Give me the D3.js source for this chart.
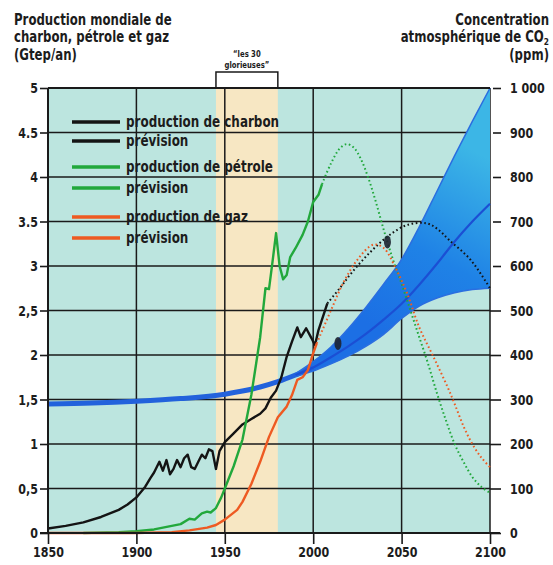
<!DOCTYPE html>
<html>
<head>
<meta charset="utf-8">
<script src="https://cdn.jsdelivr.net/npm/d3@7"></script>
<style>
  body { margin: 0; background: #fff; }
  text { font-family: 'Liberation Sans Narrow', 'DejaVu Sans Condensed', 'Arial Narrow', sans-serif; font-weight: bold; fill: #1c1c1c; }
</style>
</head>
<body>
<div id="app"></div>
<script>
// production (Gtep/an) : [année, valeur]
const charbon = [[1850,0.05],[1860,0.08],[1870,0.12],[1880,0.18],[1890,0.26],[1895,0.32],[1900,0.4],[1905,0.52],[1908,0.62],[1910,0.68],[1913,0.8],[1915,0.7],[1917,0.82],[1919,0.66],[1921,0.72],[1923,0.82],[1925,0.74],[1927,0.84],[1929,0.88],[1931,0.74],[1933,0.72],[1935,0.8],[1937,0.88],[1939,0.84],[1941,0.94],[1943,0.92],[1945,0.72],[1947,0.92],[1950,1.02],[1955,1.12],[1960,1.22],[1965,1.28],[1970,1.34],[1973,1.4],[1976,1.52],[1979,1.6],[1982,1.75],[1985,1.98],[1988,2.15],[1991,2.31],[1993,2.2],[1996,2.3],[1999,2.19],[2001,2.11],[2003,2.28],[2008,2.58]];
const charbonPrevision = [[2008,2.58],[2015,2.75],[2022,2.93],[2032,3.15],[2042,3.33],[2053,3.46],[2064,3.48],[2070,3.42],[2077,3.29],[2089,3.07],[2100,2.75]];
const petrole = [[1870,0],[1890,0.01],[1900,0.02],[1910,0.04],[1915,0.06],[1920,0.08],[1925,0.1],[1930,0.16],[1933,0.15],[1937,0.22],[1940,0.24],[1942,0.23],[1945,0.28],[1948,0.4],[1950,0.5],[1955,0.75],[1960,1.05],[1965,1.55],[1970,2.2],[1973,2.75],[1975,2.74],[1977,3.05],[1979,3.37],[1981,3.0],[1983,2.85],[1985,2.9],[1987,3.1],[1990,3.2],[1994,3.35],[1997,3.5],[2000,3.72],[2003,3.8],[2005,3.92]];
const petrolePrevision = [[2005,3.92],[2010,4.15],[2015,4.32],[2019,4.37],[2023,4.33],[2027,4.2],[2031,4.0],[2035,3.75],[2040,3.4],[2045,3.08],[2050,2.8],[2055,2.5],[2060,2.2],[2065,1.9],[2070,1.57],[2075,1.27],[2080,1.0],[2085,0.8],[2090,0.63],[2095,0.52],[2100,0.45]];
const gaz = [[1850,0],[1900,0],[1920,0.01],[1930,0.03],[1940,0.06],[1945,0.09],[1950,0.15],[1957,0.26],[1960,0.35],[1965,0.55],[1970,0.8],[1975,1.08],[1980,1.3],[1985,1.42],[1988,1.55],[1991,1.72],[1994,1.75],[1997,1.83],[2000,2.02],[2002,2.13]];
const gazPrevision = [[2002,2.13],[2010,2.5],[2017,2.81],[2025,3.07],[2034,3.24],[2040,3.2],[2047,2.96],[2053,2.7],[2060,2.31],[2068,1.98],[2076,1.64],[2080,1.45],[2085,1.2],[2090,1.0],[2095,0.85],[2100,0.74]];

// CO2 (ppm)
const co2Historique = [[1850,290],[1875,292],[1900,296],[1925,302],[1950,312],[1960,319],[1970,328],[1980,340],[1990,355]];
const co2Annees = [1990,2000,2010,2020,2030,2040,2050,2060,2070,2080,2090,2100];
const co2Central = [355,372,395,420,448,480,515,558,605,655,700,740];
const co2Haut = [358,385,418,460,508,560,615,688,768,848,925,1000];
const co2Bas = [352,364,380,398,420,447,482,510,528,540,547,550];

// repères
const glorieuses = [1945, 1980];
const marqueurs = [[2014, 2.13], [2042, 3.27]];

// axes
const anneesTicks = [1850, 1900, 1950, 2000, 2050, 2100];
const gaucheTicks = [0, 0.5, 1, 1.5, 2, 2.5, 3, 3.5, 4, 4.5, 5];
const gaucheLabels = ["0", "0,5", "1", "1,5", "2", "2,5", "3", "3.5", "4", "4.5", "5"];
const droiteTicks = [0, 100, 200, 300, 400, 500, 600, 700, 800, 900, 1000];
const droiteLabels = ["0", "100", "200", "300", "400", "500", "600", "700", "800", "900", "1 000"];

const legende = [
  { label: "production de charbon", color: "#141414" },
  { label: "prévision", color: "#141414" },
  { label: "production de pétrole", color: "#22a83c" },
  { label: "prévision", color: "#22a83c" },
  { label: "production de gaz", color: "#ee5a22" },
  { label: "prévision", color: "#ee5a22" }
];

const W = 553, H = 565;
const x = d3.scaleLinear([1850, 2100], [48, 490]);
const y = d3.scaleLinear([0, 5], [533, 88]);
const yCO2 = d3.scaleLinear([0, 1000], [533, 88]);

const svg = d3.select("#app").append("svg")
    .attr("width", W)
    .attr("height", H);

// resserre le texte (police plus étroite dans l'original)
function squeeze(sel, k) {
    sel.each(function () {
        const w = this.getComputedTextLength();
        d3.select(this).attr("textLength", w * k).attr("lengthAdjust", "spacingAndGlyphs");
    });
}

// fond
svg.append("rect")
    .attr("x", x(1850)).attr("y", y(5))
    .attr("width", x(2100) - x(1850)).attr("height", y(0) - y(5))
    .attr("fill", "#bce5df");

svg.append("rect")
    .attr("x", x(glorieuses[0])).attr("y", y(5))
    .attr("width", x(glorieuses[1]) - x(glorieuses[0])).attr("height", y(0) - y(5))
    .attr("fill", "#f7e7c3");

// grille
const grid = svg.append("g").attr("stroke", "#1a1a1a").attr("stroke-width", 1.5);
grid.selectAll(".gx").data(anneesTicks.slice(1, -1)).join("line")
    .attr("x1", d => x(d)).attr("x2", d => x(d))
    .attr("y1", y(0)).attr("y2", y(5));
grid.selectAll(".gy").data(gaucheTicks.slice(1, -1)).join("line")
    .attr("x1", x(1850)).attr("x2", x(2100))
    .attr("y1", d => y(d)).attr("y2", d => y(d));
grid.append("line")
    .attr("x1", x(2100)).attr("x2", x(2100))
    .attr("y1", y(0)).attr("y2", y(5));

// éventail CO2
const defs = svg.append("defs");
const grad = defs.append("linearGradient")
    .attr("id", "fan")
    .attr("gradientUnits", "userSpaceOnUse")
    .attr("x1", x(2040)).attr("y1", yCO2(450))
    .attr("x2", x(2095)).attr("y2", yCO2(850));
grad.append("stop").attr("offset", 0).attr("stop-color", "#1c6fe4");
grad.append("stop").attr("offset", 0.45).attr("stop-color", "#1f82e6");
grad.append("stop").attr("offset", 1).attr("stop-color", "#3cb6e6");

const co2Band = co2Annees.map((a, i) => ({ a, haut: co2Haut[i], bas: co2Bas[i], c: co2Central[i] }));

svg.append("path")
    .datum(co2Band)
    .attr("d", d3.area()
        .x(d => x(d.a))
        .y0(d => yCO2(d.bas))
        .y1(d => yCO2(d.haut))
        .curve(d3.curveMonotoneX))
    .attr("fill", "url(#fan)");

const lineCO2 = d3.line()
    .x(d => x(d[0]))
    .y(d => yCO2(d[1]))
    .curve(d3.curveMonotoneX);

svg.append("path")
    .datum(co2Historique.concat(co2Band.slice(1, 2).map(d => [d.a, d.c])))
    .attr("d", lineCO2)
    .attr("fill", "none")
    .attr("stroke", "#2262dc")
    .attr("stroke-width", 5);

["haut", "bas"].forEach(k => {
    svg.append("path")
        .datum(co2Band.map(d => [d.a, d[k]]))
        .attr("d", lineCO2)
        .attr("fill", "none")
        .attr("stroke", "#2a6ee0")
        .attr("stroke-width", 1.5);
});
svg.append("path")
    .datum(co2Band.map(d => [d.a, d.c]))
    .attr("d", lineCO2)
    .attr("fill", "none")
    .attr("stroke", "#1b4fd4")
    .attr("stroke-width", 2.2);

// production
const line = d3.line()
    .x(d => x(d[0]))
    .y(d => y(d[1]));

const series = [
    { data: charbon, color: "#141414", dash: null },
    { data: charbonPrevision, color: "#141414", dash: "1.6,2.6" },
    { data: petrole, color: "#22a83c", dash: null },
    { data: petrolePrevision, color: "#22a83c", dash: "1.6,2.6" },
    { data: gaz, color: "#ee5a22", dash: null },
    { data: gazPrevision, color: "#ee5a22", dash: "1.6,2.6" }
];

svg.append("g").selectAll("path")
    .data(series)
    .join("path")
    .attr("d", d => d.dash ? line.curve(d3.curveCatmullRom)(d.data) : line.curve(d3.curveLinear)(d.data))
    .attr("fill", "none")
    .attr("stroke", d => d.color)
    .attr("stroke-width", d => d.dash ? 2 : 2.4)
    .attr("stroke-dasharray", d => d.dash)
    .attr("stroke-linejoin", "round");

// taches sombres
svg.append("g").selectAll("ellipse")
    .data(marqueurs)
    .join("ellipse")
    .attr("cx", d => x(d[0]))
    .attr("cy", d => y(d[1]))
    .attr("rx", 3.5)
    .attr("ry", 6.5)
    .attr("fill", "#1d2230")
    .attr("opacity", 0.9);

// légende
const leg = svg.append("g").attr("transform", "translate(72,122)");
const legRows = [0, 19, 45, 66, 95, 116];
leg.selectAll("line").data(legende).join("line")
    .attr("x1", 0).attr("x2", 48)
    .attr("y1", (d, i) => legRows[i]).attr("y2", (d, i) => legRows[i])
    .attr("stroke", d => d.color)
    .attr("stroke-width", 3.5);
leg.selectAll("text").data(legende).join("text")
    .attr("x", 54)
    .attr("y", (d, i) => legRows[i] + 5)
    .attr("font-size", 16)
    .text(d => d.label)
    .call(squeeze, 0.83);

// axes
const axeGauche = svg.append("g")
    .attr("transform", `translate(${x(1850)},0)`)
    .call(d3.axisLeft(y).tickValues(gaucheTicks).tickFormat((d, i) => gaucheLabels[i]).tickSize(8).tickPadding(2));
const axeDroit = svg.append("g")
    .attr("transform", `translate(${x(2100)},0)`)
    .call(d3.axisRight(yCO2).tickValues(droiteTicks).tickFormat((d, i) => droiteLabels[i]).tickSize(11).tickPadding(9));
const axeBas = svg.append("g")
    .attr("transform", `translate(0,${y(0)})`)
    .call(d3.axisBottom(x).tickValues(anneesTicks).tickFormat(d3.format("d")).tickSize(11).tickPadding(3));

[axeGauche, axeDroit, axeBas].forEach(g => {
    g.select(".domain").remove();
    g.selectAll(".tick line").attr("stroke", "#1a1a1a").attr("stroke-width", 1.6);
    g.selectAll(".tick text").attr("font-size", 14.5).attr("fill", "#1c1c1c")
        .call(squeeze, 0.85);
    g.attr("font-family", null).attr("font-size", null);
});
axeDroit.selectAll(".tick").filter(d => d > 500).select("line").attr("x1", 3);

// cadre
const cadre = svg.append("g").attr("stroke", "#1a1a1a").attr("stroke-width", 2);
cadre.append("line").attr("x1", x(1850) - 8).attr("x2", x(2100) + 10).attr("y1", y(0)).attr("y2", y(0));
cadre.append("line").attr("x1", x(1850)).attr("x2", x(2100)).attr("y1", y(5)).attr("y2", y(5));
cadre.append("line").attr("x1", x(1850)).attr("x2", x(1850)).attr("y1", y(0)).attr("y2", y(5));

// "les 30 glorieuses"
const brk = svg.append("g");
const xMid = (x(glorieuses[0]) + x(glorieuses[1])) / 2;
brk.append("path")
    .attr("d", `M${x(glorieuses[0])},${y(5)}V${y(5) - 16}H${x(glorieuses[1])}V${y(5)}`)
    .attr("fill", "none").attr("stroke", "#1a1a1a").attr("stroke-width", 1.5);
brk.selectAll("text").data(["“les 30", "glorieuses”"]).join("text")
    .attr("x", xMid)
    .attr("y", (d, i) => 57 + i * 11)
    .attr("text-anchor", "middle")
    .attr("font-size", 8.5)
    .text(d => d)
    .call(squeeze, 0.9);

// titres (compressés horizontalement)
svg.append("g")
    .attr("transform", "translate(14,0) scale(0.87,1)")
    .selectAll("text")
    .data(["Production mondiale de", "charbon, pétrole et gaz", "(Gtep/an)"])
    .join("text")
    .attr("x", 0)
    .attr("y", (d, i) => 25 + i * 17.5)
    .attr("font-size", 15)
    .text(d => d);

const titreD = svg.append("g").attr("transform", "translate(549,0) scale(0.87,1)");
titreD.append("text").attr("x", 0).attr("y", 25).attr("text-anchor", "end").attr("font-size", 15)
    .text("Concentration");
const l2 = titreD.append("text").attr("x", 0).attr("y", 42.5).attr("text-anchor", "end").attr("font-size", 15);
l2.append("tspan").text("atmosphérique de CO");
l2.append("tspan").attr("font-size", 9.5).attr("dy", 2.5).text("2");
titreD.append("text").attr("x", 0).attr("y", 60).attr("text-anchor", "end").attr("font-size", 15)
    .text("(ppm)");
</script>
</body>
</html>
